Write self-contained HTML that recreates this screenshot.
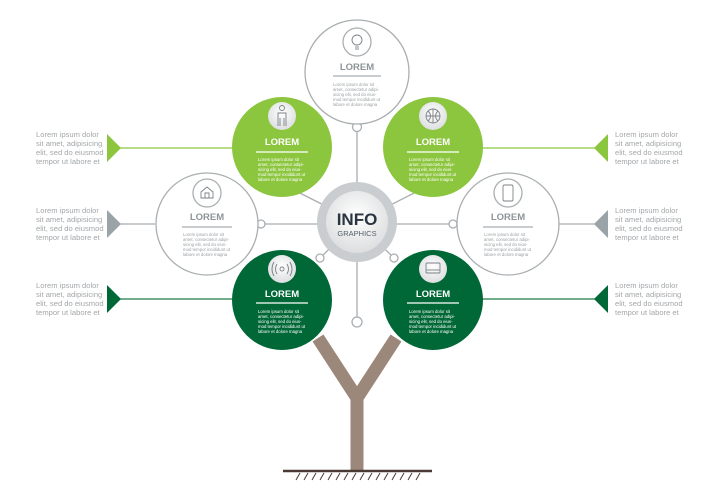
<!DOCTYPE html>
<html><head><meta charset="utf-8"><style>
html,body{margin:0;padding:0;background:#fff;}
svg{display:block;font-family:"Liberation Sans",sans-serif;}
.s{font-size:7.6px;fill:#a3a7aa;}
.t{font-size:4.3px;}
.h{font-size:9.5px;font-weight:bold;text-anchor:middle;}
</style></head><body>
<svg width="715" height="500" viewBox="0 0 715 500" xmlns="http://www.w3.org/2000/svg">
<defs>
<radialGradient id="ig" cx="50%" cy="40%" r="60%"><stop offset="0" stop-color="#fff"/><stop offset="1" stop-color="#dcdedf"/></radialGradient>
</defs>
<g stroke="#9c877b" stroke-width="13" fill="none" stroke-linejoin="miter">
<path d="M357 470 L357 398 L318 338"/>
<path d="M357 398 L396 338"/>
</g>
<line x1="283" y1="471" x2="432" y2="471" stroke="#4a3a33" stroke-width="2.5"/>
<g stroke="#4a3a33" stroke-width="1">
<path d="M296 480l4-7M304 480l4-7M312 480l4-7M320 480l4-7M328 480l4-7M336 480l4-7M344 480l4-7M352 480l4-7M360 480l4-7M368 480l4-7M376 480l4-7M384 480l4-7M392 480l4-7M400 480l4-7M408 480l4-7M416 480l4-7"/>
</g>
<g stroke="#a9aeb1" stroke-width="1.3" fill="none">
<line x1="357" y1="124" x2="357" y2="317"/>
<line x1="120" y1="224" x2="155" y2="224"/>
<line x1="259" y1="224" x2="595" y2="224"/>
<line x1="292" y1="189" x2="357" y2="222"/><line x1="422" y1="189" x2="357" y2="222"/>
<line x1="320" y1="258" x2="357" y2="222"/><line x1="394" y1="258" x2="357" y2="222"/>
</g>
<line x1="120" y1="148" x2="240" y2="148" stroke="#8cc63f" stroke-width="1.3"/>
<line x1="475" y1="148" x2="595" y2="148" stroke="#8cc63f" stroke-width="1.3"/>
<line x1="120" y1="299" x2="240" y2="299" stroke="#1e7a45" stroke-width="1.3"/>
<line x1="475" y1="299" x2="595" y2="299" stroke="#1e7a45" stroke-width="1.3"/>
<g fill="#fff" stroke="#a9aeb1" stroke-width="1.3">
<circle cx="357" cy="127" r="4.5"/><circle cx="357" cy="322" r="5"/>
<circle cx="261" cy="224" r="4"/><circle cx="453" cy="224" r="4"/>
<circle cx="292" cy="189" r="4"/><circle cx="422" cy="189" r="4"/>
<circle cx="320" cy="258" r="4"/><circle cx="394" cy="258" r="4"/>
</g>
<polygon points="107,134 107,162 121,148" fill="#8cc63f"/>
<polygon points="107,210 107,238 121,224" fill="#9aa3a7"/>
<polygon points="107,285 107,313 121,299" fill="#006837"/>
<polygon points="608,134 608,162 594,148" fill="#8cc63f"/>
<polygon points="608,210 608,238 594,224" fill="#9aa3a7"/>
<polygon points="608,285 608,313 594,299" fill="#006837"/>
<g class="s">
<text x="36" y="137">Lorem ipsum dolor</text><text x="36" y="146">sit amet, adipisicing</text><text x="36" y="155">elit, sed do eiusmod</text><text x="36" y="164">tempor ut labore et</text>
<text x="36" y="213">Lorem ipsum dolor</text><text x="36" y="222">sit amet, adipisicing</text><text x="36" y="231">elit, sed do eiusmod</text><text x="36" y="240">tempor ut labore et</text>
<text x="36" y="288">Lorem ipsum dolor</text><text x="36" y="297">sit amet, adipisicing</text><text x="36" y="306">elit, sed do eiusmod</text><text x="36" y="315">tempor ut labore et</text>
<text x="615" y="137">Lorem ipsum dolor</text><text x="615" y="146">sit amet, adipisicing</text><text x="615" y="155">elit, sed do eiusmod</text><text x="615" y="164">tempor ut labore et</text>
<text x="615" y="213">Lorem ipsum dolor</text><text x="615" y="222">sit amet, adipisicing</text><text x="615" y="231">elit, sed do eiusmod</text><text x="615" y="240">tempor ut labore et</text>
<text x="615" y="288">Lorem ipsum dolor</text><text x="615" y="297">sit amet, adipisicing</text><text x="615" y="306">elit, sed do eiusmod</text><text x="615" y="315">tempor ut labore et</text>
</g>
<g fill="#fff" stroke="#a9aeb1" stroke-width="1.3">
<circle cx="357" cy="72" r="52"/>
<circle cx="207" cy="224" r="51"/>
<circle cx="508" cy="224" r="51"/>
<circle cx="357" cy="42" r="14"/><circle cx="207" cy="193" r="14"/><circle cx="508" cy="193" r="14"/>
</g>
<circle cx="282" cy="147" r="50" fill="#8cc63f"/>
<circle cx="433" cy="147" r="50" fill="#8cc63f"/>
<circle cx="282" cy="300" r="50" fill="#006837"/>
<circle cx="433" cy="300" r="50" fill="#006837"/>
<g fill="url(#ig)"><circle cx="282" cy="116" r="14"/><circle cx="433" cy="116" r="14"/><circle cx="282" cy="269" r="14"/><circle cx="433" cy="269" r="14"/></g>
<g stroke="#7c8286" stroke-width="0.9" fill="none">
<circle cx="357" cy="40" r="5"/><line x1="355" y1="47" x2="359" y2="47"/><line x1="355" y1="49" x2="359" y2="49"/>
<path d="M201 198v-6l6-5 6 5v6zM205 198v-5h4v5"/>
<rect x="503" y="185" width="10" height="16" rx="1.5"/>
<circle cx="282" cy="108" r="2.5"/><path d="M278 126v-13h8v13M280 126v-8M284 126v-8"/>
<circle cx="433" cy="116" r="7"/><path d="M426 116h14M433 109v14M428 111q5 5 0 10M438 111q-5 5 0 10"/>
<circle cx="282" cy="269" r="2"/><path d="M277 264q-3 5 0 10M287 264q3 5 0 10M274 262q-4 7 0 14M290 262q4 7 0 14"/>
<rect x="426" y="263" width="14" height="10" rx="1"/><line x1="426" y1="270" x2="440" y2="270"/>
</g>
<g class="h">
<text x="357" y="70" fill="#8d9497">LOREM</text>
<text x="207" y="220" fill="#8d9497">LOREM</text>
<text x="508" y="220" fill="#8d9497">LOREM</text>
<text x="282" y="145" fill="#fff">LOREM</text>
<text x="433" y="145" fill="#fff">LOREM</text>
<text x="282" y="297" fill="#fff">LOREM</text>
<text x="433" y="297" fill="#fff">LOREM</text>
</g>
<g stroke-width="1.3">
<line x1="333" y1="76" x2="381" y2="76" stroke="#a9aeb1"/>
<line x1="182" y1="227" x2="232" y2="227" stroke="#a9aeb1"/>
<line x1="483" y1="227" x2="533" y2="227" stroke="#a9aeb1"/>
<line x1="256" y1="152" x2="308" y2="152" stroke="#fff"/>
<line x1="407" y1="152" x2="459" y2="152" stroke="#fff"/>
<line x1="256" y1="303" x2="308" y2="303" stroke="#fff"/>
<line x1="407" y1="303" x2="459" y2="303" stroke="#fff"/>
</g>
<g class="t">
<g fill="#9aa0a3">
<text x="333" y="86">Lorem ipsum dolor sit</text><text x="333" y="91">amet, consectetur adipi-</text><text x="333" y="96">sicing elit, sed do eius-</text><text x="333" y="101">mod tempor incididunt ut</text><text x="333" y="106">labore et dolore magna</text>
<text x="183" y="236">Lorem ipsum dolor sit</text><text x="183" y="241">amet, consectetur adipi-</text><text x="183" y="246">sicing elit, sed do eius-</text><text x="183" y="251">mod tempor incididunt ut</text><text x="183" y="256">labore et dolore magna</text>
<text x="484" y="236">Lorem ipsum dolor sit</text><text x="484" y="241">amet, consectetur adipi-</text><text x="484" y="246">sicing elit, sed do eius-</text><text x="484" y="251">mod tempor incididunt ut</text><text x="484" y="256">labore et dolore magna</text>
</g>
<g fill="#fff">
<text x="258" y="161">Lorem ipsum dolor sit</text><text x="258" y="166">amet, consectetur adipi-</text><text x="258" y="171">sicing elit, sed do eius-</text><text x="258" y="176">mod tempor incididunt ut</text><text x="258" y="181">labore et dolore magna</text>
<text x="409" y="161">Lorem ipsum dolor sit</text><text x="409" y="166">amet, consectetur adipi-</text><text x="409" y="171">sicing elit, sed do eius-</text><text x="409" y="176">mod tempor incididunt ut</text><text x="409" y="181">labore et dolore magna</text>
<text x="258" y="313">Lorem ipsum dolor sit</text><text x="258" y="318">amet, consectetur adipi-</text><text x="258" y="323">sicing elit, sed do eius-</text><text x="258" y="328">mod tempor incididunt ut</text><text x="258" y="333">labore et dolore magna</text>
<text x="409" y="313">Lorem ipsum dolor sit</text><text x="409" y="318">amet, consectetur adipi-</text><text x="409" y="323">sicing elit, sed do eius-</text><text x="409" y="328">mod tempor incididunt ut</text><text x="409" y="333">labore et dolore magna</text>
</g>
</g>
<circle cx="357" cy="222" r="40" fill="#c9cdcf"/>
<circle cx="357" cy="222" r="31" fill="url(#ig)"/>
<text x="357" y="225" text-anchor="middle" font-size="17" font-weight="bold" fill="#2b3540">INFO</text>
<text x="357" y="236" text-anchor="middle" font-size="7.5" fill="#56606a">GRAPHICS</text>
</svg>
</body></html>
